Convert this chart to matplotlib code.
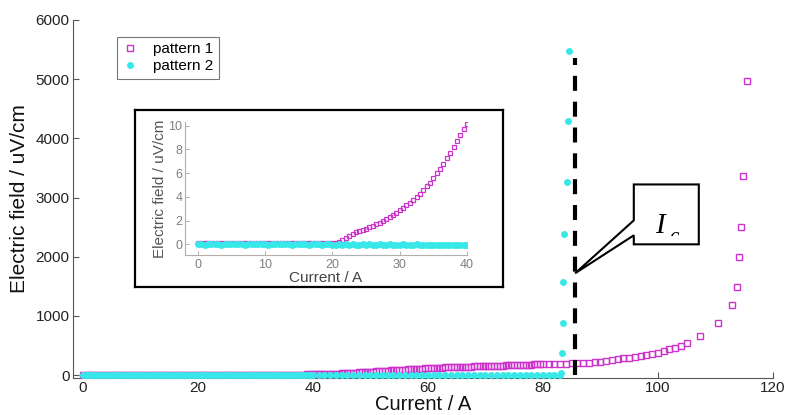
import matplotlib
matplotlib.use("Agg")
import matplotlib.pyplot as plt
from matplotlib.patches import Polygon
from matplotlib.transforms import Bbox, TransformedBbox
import numpy as np

plt.rcParams['font.family'] = ['Liberation Sans', 'DejaVu Sans']

# current sweep shown in the inset (0 - 40 A, 0.5 A steps)
current_low = np.arange(0, 40.5, 0.5)
p1_low = [0.1, 0.1, 0.1, 0.1, 0.1, 0.1, 0.1, 0.1, 0.1, 0.1,
          0.1, 0.1, 0.1, 0.1, 0.1, 0.1, 0.1, 0.1, 0.1, 0.1,
          0.1, 0.1, 0.1, 0.1, 0.1, 0.1, 0.1, 0.1, 0.1, 0.1,
          0.1, 0.1, 0.1, 0.1, 0.1, 0.1, 0.1, 0.1, 0.1, 0.1,
          0.12, 0.15,
          0.2, 0.4, 0.55, 0.7, 0.85, 1.0, 1.1, 1.2, 1.3, 1.42,
          1.55, 1.68, 1.82, 1.98, 2.15, 2.3, 2.48, 2.65, 2.85, 3.05,
          3.27, 3.5, 3.73, 3.98, 4.25, 4.55, 4.87, 5.2, 5.6, 5.98,
          6.38, 6.8, 7.25, 7.7, 8.2, 8.7, 9.2, 9.7, 10.1]
p2_low = [0.0, 0.0, -0.05, 0.0, 0.05, 0.0, 0.0, -0.05, 0.0, 0.0,
          0.0, 0.05, 0.0, 0.0, -0.05, 0.0, 0.0, 0.0, 0.05, 0.0,
          0.0, -0.05, 0.0, 0.0, 0.0, 0.05, 0.0, 0.0, -0.05, 0.0,
          0.0, 0.0, 0.0, -0.05, 0.0, 0.0, 0.0, -0.05, 0.0, 0.0,
          -0.05, -0.05, 0.0, -0.05, 0.0, -0.05, 0.0, -0.05, -0.05, 0.0,
          -0.05, 0.0, -0.05, -0.05, 0.0, -0.05, -0.05, 0.0, -0.05, -0.05,
          -0.05, 0.0, -0.05, -0.05, -0.05, 0.0, -0.05, -0.05, -0.05, -0.1,
          -0.05, -0.05, -0.1, -0.05, -0.05, -0.1, -0.05, -0.05, -0.1, -0.05,
          -0.05]

# rest of the sweep, main plot only
current_p1_high = [40.5, 41, 41.5, 42, 42.5, 43, 43.5, 44, 44.5, 45,
                   45.5, 46, 46.5, 47, 47.5, 48, 48.5, 49, 49.5, 50,
                   50.5, 51, 51.5, 52, 52.5, 53, 53.5, 54, 54.5, 55,
                   55.5, 56, 56.5, 57, 57.5, 58, 58.5, 59, 59.5, 60,
                   60.5, 61, 61.5, 62, 62.5, 63, 63.5, 64, 64.5, 65,
                   65.5, 66, 66.5, 67, 67.5, 68, 68.5, 69, 69.5, 70,
                   70.5, 71, 71.5, 72, 72.5, 73, 73.5, 74, 74.5, 75,
                   75.5, 76, 76.5, 77, 77.5, 78, 78.5, 79, 79.5, 80,
                   81, 82, 83, 84, 85, 86, 87, 88, 89, 90,
                   91, 92, 93, 94, 95, 96, 97, 98, 99, 100,
                   101, 102, 103, 104, 105,
                   107.3, 110.5, 112.8, 113.7, 114.1, 114.4, 114.8, 115.4]
p1_high = [11, 12, 13.5, 15, 17, 19, 21, 23, 25.5, 28,
           30.5, 33, 35.5, 38, 41, 44, 47, 50, 53, 56,
           59, 62, 65, 68, 71, 74, 77, 80, 83, 86,
           89, 92, 95, 98, 101, 104, 107, 110, 113, 116,
           118, 120, 122, 124, 126, 128, 130, 132, 134, 136,
           137.5, 139, 140.5, 142, 143.5, 145, 146.5, 148, 149.5, 151,
           152.5, 154, 155.5, 157, 158.5, 160, 161.5, 163, 164.5, 166,
           168, 170, 172, 174, 176, 178, 180, 182, 184, 186,
           188, 190, 192, 195, 197, 200, 203, 207, 215, 225,
           236, 250, 265, 281, 294, 307, 320, 338, 357, 376,
           405, 432, 465, 498, 535,
           658, 882, 1192, 1495, 1995, 2500, 3361, 4975]

current_p2_high = [41, 42, 43, 44, 45, 46, 47, 48, 49, 50,
                   51, 52, 53, 54, 55, 56, 57, 58, 59, 60,
                   61, 62, 63, 64, 65, 66, 67, 68, 69, 70,
                   71, 72, 73, 74, 75, 76, 77, 78, 79, 80,
                   81, 82, 83,
                   83.2, 83.4, 83.5, 83.5, 83.7, 84.1, 84.3, 84.5]
p2_high = [0, 0, 0, 0, 0, 0, 0, 0, 0, 0,
           0, 0, 0, 0, 0, 0, 0, 0, 0, 0,
           0, 0, 0, 0, 0, 0, 0, 0, 0, 0,
           0, 0, 0, 0, 0, 0, 0, 0, 0, 0,
           0, 0, 0,
           40, 376, 882, 1573, 2378, 3255, 4300, 5480]

critical_current = 85.6

c1 = '#cc33cc'
c2 = '#38e8e8'

fig = plt.figure(figsize=(7.85, 4.15), dpi=100)

# main axes
ax = fig.add_axes([73/785, 1 - 378/415, 700/785, 358/415])
cur_p1 = np.concatenate([current_low, current_p1_high])
val_p1 = np.concatenate([p1_low, p1_high])
cur_p2 = np.concatenate([current_low, current_p2_high])
val_p2 = np.concatenate([p2_low, p2_high])

ax.plot(cur_p1, val_p1, 's', ls='none', mfc='none', mec=c1, ms=4.2, mew=1.0,
        label='pattern 1', zorder=3)
ax.plot(cur_p2, val_p2, 'o', ls='none', color=c2, ms=5, mew=0,
        label='pattern 2', zorder=4)

ax.plot([critical_current, critical_current], [0, 5360], color='black', lw=3,
        dashes=(3.6, 2.6), zorder=6)

ax.set_xlim(-1.7, 120)
ax.set_ylim(-50, 6000)
ax.set_xticks([0, 20, 40, 60, 80, 100, 120])
ax.set_yticks([0, 1000, 2000, 3000, 4000, 5000, 6000])
for s in ['top', 'right']:
    ax.spines[s].set_visible(False)
for s in ['left', 'bottom']:
    ax.spines[s].set_color('#555555')
    ax.spines[s].set_linewidth(0.8)
ax.tick_params(direction='in', length=4, width=0.8, color='#555555',
               labelsize=11, labelcolor='#222222')
ax.tick_params(axis='y', pad=2.5)
ax.tick_params(axis='x', pad=2.5)
ax.set_xlabel('Current / A', fontsize=14.5, labelpad=0, color='#111111')
ax.set_ylabel('Electric field / uV/cm', fontsize=15, labelpad=5, color='#111111')

leg = ax.legend(loc='upper left', bbox_to_anchor=(117/785, 1 - 37/415),
                bbox_transform=fig.transFigure, borderaxespad=0,
                fancybox=False, fontsize=11, handlelength=1.0,
                handletextpad=1.0, borderpad=0.35, labelspacing=0.2,
                edgecolor='#555555')
leg.get_frame().set_linewidth(0.8)

# callout for Ic
callout = Polygon([(95.8, 3221), (107.1, 3221), (107.1, 2209), (95.8, 2209),
                   (95.8, 2361), (critical_current, 1720), (95.8, 2614)],
                  closed=True, facecolor='white', edgecolor='black', lw=1.5,
                  zorder=7, clip_on=False)
ax.add_patch(callout)
clip = TransformedBbox(Bbox([[95.8, 2344], [107.1, 3221]]), ax.transData)
t_i = ax.text(99.5, 2395, 'I', fontsize=21, family='Liberation Serif',
              style='italic', ha='left', va='baseline', zorder=8)
t_c = ax.text(102.0, 2479, 'c', fontsize=15, family='Liberation Serif',
              style='italic', ha='left', va='top', zorder=8)
for t in (t_i, t_c):
    t.set_clip_box(clip)
    t.set_clip_on(True)

# inset frame
frame = fig.add_axes([135/785, 1 - 287/415, 368/785, 177/415])
frame.set_xticks([])
frame.set_yticks([])
for s in frame.spines.values():
    s.set_linewidth(1.6)
    s.set_color('black')

# inset
ax_in = fig.add_axes([185/785, 1 - 255/415, 282/785, 133/415])
ax_in.plot(current_low, p1_low, 's', ls='none', mfc='none', mec=c1, ms=3.5,
           mew=0.9)
ax_in.plot(current_low, p2_low, 'o', ls='none', color=c2, ms=5, mew=0)
ax_in.set_xlim(-1.9, 40)
ax_in.set_ylim(-0.9, 10.3)
ax_in.set_xticks([0, 10, 20, 30, 40])
ax_in.set_yticks([0, 2, 4, 6, 8, 10])
for s in ['top', 'right']:
    ax_in.spines[s].set_visible(False)
for s in ['left', 'bottom']:
    ax_in.spines[s].set_color('#b0b0b0')
    ax_in.spines[s].set_linewidth(0.8)
ax_in.tick_params(direction='in', length=3, width=0.7, color='#b0b0b0',
                  labelsize=9, labelcolor='#808080')
ax_in.tick_params(axis='y', pad=2)
ax_in.tick_params(axis='x', pad=3)
ax_in.set_xlabel('Current / A', fontsize=11, labelpad=0, color='#444444')
ax_in.set_ylabel('Electric field / uV/cm', fontsize=11, labelpad=1,
                 color='#555555')

fig.savefig('out.png', dpi=100)
